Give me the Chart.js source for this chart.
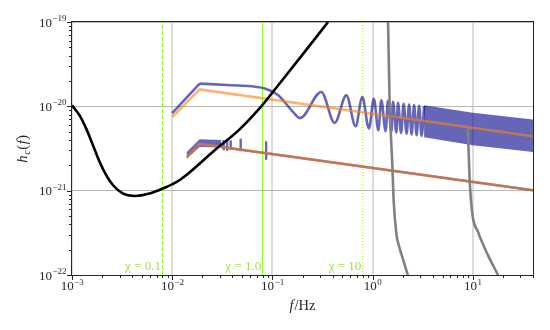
<!DOCTYPE html>
<html>
<head>
<meta charset="utf-8">
<script src="https://cdn.jsdelivr.net/npm/chart.js@4.4.1/dist/chart.umd.min.js"></script>
<style>
  html, body { margin: 0; padding: 0; background: #fff; }
</style>
</head>
<body>
<canvas id="chart" width="550" height="330"></canvas>
<script>
// axis limits and decade tick labels
const xMin = 1e-3, xMax = 40;
const yMin = 1e-22, yMax = 1e-19;
const xTickValues = [1e-3, 1e-2, 1e-1, 1, 10];
const xTickPowers = ['\u22123', '\u22122', '\u22121', '0', '1'];
const yTickValues = [1e-22, 1e-21, 1e-20, 1e-19];
const yTickPowers = ['\u221222', '\u221221', '\u221220', '\u221219'];

// detector sensitivity (black)
const noiseFreq = [0.001, 0.00119, 0.00139, 0.00162, 0.00189, 0.0022, 0.00257, 0.00324, 0.0042, 0.00594, 0.00806, 0.0118, 0.0264, 0.0468, 0.0775, 0.1045, 0.2, 0.36];
const noiseHc = [1.03e-20, 7.8e-21, 5.4e-21, 3.45e-21, 2.19e-21, 1.52e-21, 1.16e-21, 9.2e-22, 8.65e-22, 9.25e-22, 1.06e-21, 1.33e-21, 3.0e-21, 5.3e-21, 1.0e-20, 1.55e-20, 4.1e-20, 1.0e-19];

// grey cut-off curves
const grayAFreq = [1.43, 1.48, 1.58, 1.625, 1.73, 1.86, 2.01, 2.25];
const grayAHc = [1e-19, 1.18e-20, 1.9e-21, 7.7e-22, 3.1e-22, 2.1e-22, 1.55e-22, 1e-22];
const grayBFreq = [8.95, 9.3, 9.9, 11.3, 14.2, 17.9];
const grayBHc = [5.45e-21, 1.45e-21, 5.4e-22, 3.25e-22, 1.72e-22, 1.0e-22];

// orange straight tracks
const orangeHiFreq = [0.01, 0.0188, 40];
const orangeHiHc = [7.47e-21, 1.59e-20, 4.42e-21];
const orangeLoFreq = [0.01387, 0.0188, 40];
const orangeLoHc = [2.47e-21, 3.59e-21, 1.01e-21];

// blue upper track: rise, then chirping wave (peaks / troughs), then dense band
const blueRiseFreq = [0.01, 0.0188];
const blueRiseHc = [8.3e-21, 1.86e-20];
const blueWaveFreq = [0.0188, 0.039, 0.0617, 0.0838, 0.1138, 0.1607, 0.1888, 0.308, 0.419, 0.548, 0.678, 0.791, 0.921, 1.032, 1.143, 1.224, 1.352, 1.426, 1.542, 1.60, 1.73, 1.795,
    1.929, 2.044, 2.189, 2.319, 2.456, 2.602, 2.755, 2.918, 3.09, 3.273];
const blueWaveHc = [1.86e-20, 1.78e-20, 1.73e-20, 1.63e-20, 1.36e-20, 8.6e-21, 7.25e-21, 1.48e-20, 6.36e-21, 1.35e-20, 5.81e-21, 1.29e-20, 5.45e-21, 1.23e-20, 5.2e-21, 1.18e-20, 5.06e-21, 1.16e-20, 4.97e-21, 1.13e-20, 4.89e-21, 1.10e-20,
    4.83e-21, 1.073e-20, 4.74e-21, 1.053e-20, 4.65e-21, 1.036e-20, 4.55e-21, 1.016e-20, 4.46e-21, 9.97e-21];
const blueBandFreq = [3.273, 10, 40];
const blueBandTop = [1.03e-20, 8.4e-21, 6.98e-21];
const blueBandBot = [4.3e-21, 3.45e-21, 2.88e-21];

// blue lower track: short dense band, then spikes along the orange line
const blueLoBandFreq = [0.0139, 0.0188, 0.031];
const blueLoBandTop = [2.85e-21, 4.06e-21, 4.0e-21];
const blueLoBandBot = [2.38e-21, 3.3e-21, 3.25e-21];
const blueLoFreq = [0.031, 0.0327, 0.0327, 0.0327, 0.0327, 0.0354, 0.0354, 0.0354, 0.0354, 0.0384, 0.0384, 0.0384, 0.0384, 0.0483, 0.0483, 0.0483, 0.0483, 0.0867, 0.0867, 0.0867, 0.0867, 40];
const blueLoHc = [3.3e-21, 3.27e-21, 3.99e-21, 3.01e-21, 3.27e-21, 3.22e-21, 3.99e-21, 2.97e-21, 3.22e-21, 3.18e-21, 3.95e-21, 3.05e-21, 3.18e-21, 3.06e-21, 4.12e-21, 2.93e-21, 3.06e-21, 2.78e-21, 3.85e-21, 2.32e-21, 2.78e-21, 1.01e-21];

// chi markers
const chiFreq = [0.008, 0.08, 0.8];
const chiLabels = ['\u03c7 = 0.1', '\u03c7 = 1.0', '\u03c7 = 10'];
const chiDash = [[4, 2], [], [1, 2]];

const SERIF = '"Liberation Serif", "DejaVu Serif", serif';
const BLUE = 'rgba(0, 0, 139, 0.6)';
const ORANGE = 'rgba(255, 127, 14, 0.6)';
const GREEN = '#7fff00';

function pts(xs, ys) {
    return xs.map((x, i) => ({ x: x, y: ys[i] }));
}

function isDecade(v) {
    const l = Math.log10(v);
    return Math.abs(l - Math.round(l)) < 1e-6;
}

function line(xs, ys, color, width, order, extra) {
    return Object.assign({
        data: pts(xs, ys),
        borderColor: color,
        borderWidth: width,
        backgroundColor: color,
        pointRadius: 0,
        tension: 0,
        fill: false,
        clip: 0,
        order: order
    }, extra || {});
}

let datasets = [
    line(noiseFreq, noiseHc, '#000000', 2.6, 0, { cubicInterpolationMode: 'monotone' }),
    line(grayAFreq, grayAHc, '#808080', 2.6, 1, { cubicInterpolationMode: 'monotone' }),
    line(grayBFreq, grayBHc, '#808080', 2.6, 1, { cubicInterpolationMode: 'monotone' }),
    line(orangeHiFreq, orangeHiHc, ORANGE, 2.6, 2),
    line(orangeLoFreq, orangeLoHc, ORANGE, 2.6, 2),
    line(blueRiseFreq, blueRiseHc, BLUE, 2.6, 3),
    line(blueWaveFreq, blueWaveHc, BLUE, 2.6, 3, { cubicInterpolationMode: 'monotone' }),
    line(blueBandFreq, blueBandTop, 'transparent', 0, 3),
    line(blueBandFreq, blueBandBot, 'transparent', 0, 3, { fill: '-1', backgroundColor: BLUE }),
    line(blueLoBandFreq, blueLoBandTop, 'transparent', 0, 3),
    line(blueLoBandFreq, blueLoBandBot, 'transparent', 0, 3, { fill: '-1', backgroundColor: BLUE }),
    line(blueLoFreq, blueLoHc, BLUE, 2.4, 3)
];

chiFreq.forEach((f, i) => {
    datasets.push(line([f, f], [yMin, yMax], GREEN, 1, 4, { borderDash: chiDash[i] }));
});

// draw "10" with a raised exponent
function drawPower(ctx, exp, x, y, align) {
    ctx.font = '13px ' + SERIF;
    const bw = ctx.measureText('10').width;
    ctx.font = '9px ' + SERIF;
    const ew = ctx.measureText(exp).width;
    const left = align === 'center' ? x - (bw + ew) / 2 : x - bw - ew;
    ctx.font = '13px ' + SERIF;
    ctx.fillText('10', left, y);
    ctx.font = '9px ' + SERIF;
    ctx.fillText(exp, left + bw + 0.5, y - 5.5);
}

const decorPlugin = {
    id: 'decor',
    afterDraw(chart) {
        const ctx = chart.ctx;
        const a = chart.chartArea;
        const xs = chart.scales.x, ys = chart.scales.y;
        ctx.save();

        // frame
        ctx.strokeStyle = '#262626';
        ctx.lineWidth = 1;
        ctx.strokeRect(Math.round(a.left) - 0.5, Math.round(a.top) - 0.5,
            Math.round(a.right) - Math.round(a.left) + 1, Math.round(a.bottom) - Math.round(a.top) + 1);

        // major / minor tick marks
        ctx.beginPath();
        for (let d = -3; d <= 1; d++) {
            for (let k = 1; k <= 9; k++) {
                const v = k * Math.pow(10, d);
                if (v < xMin * 0.999 || v > xMax * 1.001) continue;
                const px = Math.round(xs.getPixelForValue(v)) + 0.5;
                const len = k === 1 ? 5 : 3;
                ctx.moveTo(px, a.bottom);
                ctx.lineTo(px, a.bottom + len);
            }
        }
        for (let d = -22; d <= -19; d++) {
            for (let k = 1; k <= 9; k++) {
                const v = k * Math.pow(10, d);
                if (v < yMin * 0.999 || v > yMax * 1.001) continue;
                const py = Math.round(ys.getPixelForValue(v)) + 0.5;
                const len = k === 1 ? 5 : 3;
                ctx.moveTo(a.left, py);
                ctx.lineTo(a.left - len, py);
            }
        }
        ctx.stroke();

        // tick labels
        ctx.fillStyle = '#262626';
        ctx.textAlign = 'left';
        ctx.textBaseline = 'alphabetic';
        xTickValues.forEach((v, i) => {
            drawPower(ctx, xTickPowers[i], xs.getPixelForValue(v), a.bottom + 15, 'center');
        });
        yTickValues.forEach((v, i) => {
            drawPower(ctx, yTickPowers[i], a.left - 6, ys.getPixelForValue(v) + 4.5, 'right');
        });

        // x axis title: f/Hz
        const cx = (a.left + a.right) / 2;
        ctx.font = 'italic 14.5px ' + SERIF;
        const fw = ctx.measureText('f').width;
        ctx.font = '14.5px ' + SERIF;
        const rw = ctx.measureText('/Hz').width;
        let sx = cx - (fw + rw + 1) / 2;
        ctx.font = 'italic 14.5px ' + SERIF;
        ctx.fillText('f', sx, a.bottom + 35);
        ctx.font = '14.5px ' + SERIF;
        ctx.fillText('/Hz', sx + fw + 1, a.bottom + 35);

        // y axis title: h_c(f)
        ctx.save();
        ctx.translate(27, (a.top + a.bottom) / 2);
        ctx.rotate(-Math.PI / 2);
        const parts = [
            ['h', 'italic 14.5px ', 0],
            ['c', 'italic 10px ', 3],
            ['(', '14.5px ', 0],
            ['f', 'italic 14.5px ', 0],
            [')', '14.5px ', 0]
        ];
        let total = 0;
        parts.forEach(p => { ctx.font = p[1] + SERIF; total += ctx.measureText(p[0]).width + 0.6; });
        let tx = -total / 2;
        parts.forEach(p => {
            ctx.font = p[1] + SERIF;
            ctx.fillText(p[0], tx, p[2]);
            tx += ctx.measureText(p[0]).width + 0.6;
        });
        ctx.restore();

        // chi labels
        ctx.fillStyle = '#a2de4a';
        ctx.font = '13px ' + SERIF;
        ctx.textAlign = 'right';
        chiFreq.forEach((f, i) => {
            ctx.fillText(chiLabels[i], xs.getPixelForValue(f) - 1.5, a.bottom - 5);
        });

        ctx.restore();
    }
};

new Chart(document.getElementById('chart'), {
    type: 'line',
    data: { datasets: datasets },
    options: {
        responsive: false,
        animation: false,
        layout: { padding: { left: 72, right: 17, top: 22, bottom: 55 } },
        plugins: {
            legend: { display: false },
            tooltip: { enabled: false }
        },
        scales: {
            x: {
                type: 'logarithmic',
                min: xMin,
                max: xMax,
                ticks: { display: false, autoSkip: false },
                border: { display: false },
                grid: {
                    drawTicks: false,
                    lineWidth: 2,
                    color: c => (c.tick && isDecade(c.tick.value)) ? '#dcdcdc' : 'transparent'
                }
            },
            y: {
                type: 'logarithmic',
                min: yMin,
                max: yMax,
                ticks: { display: false, autoSkip: false },
                border: { display: false },
                grid: {
                    drawTicks: false,
                    lineWidth: 1,
                    color: c => (c.tick && isDecade(c.tick.value)) ? '#b8b8b8' : 'transparent'
                }
            }
        }
    },
    plugins: [decorPlugin]
});
</script>
</body>
</html>
